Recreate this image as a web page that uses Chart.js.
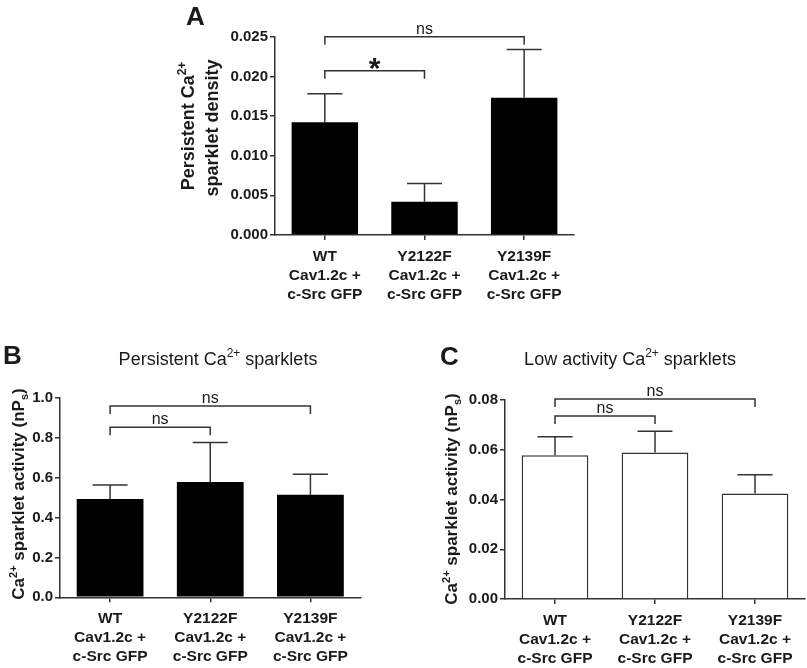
<!DOCTYPE html>
<html>
<head>
<meta charset="utf-8">
<script src="https://cdn.jsdelivr.net/npm/chart.js@4.4.1/dist/chart.umd.min.js"></script>
<style>
  body { margin:0; background:#fff; width:807px; height:668px; position:relative; overflow:hidden; }
  .panel { position:absolute; }
</style>
</head>
<body>
<div class="panel" style="left:150px;top:0"><canvas id="chA" width="460" height="315"></canvas></div>
<div class="panel" style="left:0;top:330px"><canvas id="chB" width="400" height="338"></canvas></div>
<div class="panel" style="left:400px;top:330px"><canvas id="chC" width="407" height="338"></canvas></div>

<script>
// ---- data -----------------------------------------------------
const groups = [
  ['WT', 'Cav1.2c +', 'c-Src GFP'],
  ['Y2122F', 'Cav1.2c +', 'c-Src GFP'],
  ['Y2139F', 'Cav1.2c +', 'c-Src GFP']
];

// A: persistent sparklet density
const densityMean = [0.0142, 0.0042, 0.0173];
const densitySem  = [0.0036, 0.0023, 0.0061];
const densityTicks = [0, 0.005, 0.010, 0.015, 0.020, 0.025];
const densityBrackets = [[0, 2, 0.0250, 'ns'], [0, 1, 0.0207, '*']];

// B: persistent sparklet activity
const persistMean = [0.492, 0.578, 0.514];
const persistSem  = [0.070, 0.197, 0.102];
const persistTicks = [0, 0.2, 0.4, 0.6, 0.8, 1.0];
const persistBrackets = [[0, 2, 0.958, 'ns'], [0, 1, 0.852, 'ns']];

// C: low activity sparklets
const lowMean = [0.0578, 0.0589, 0.0424];
const lowSem  = [0.0074, 0.0085, 0.0076];
const lowTicks = [0, 0.02, 0.04, 0.06, 0.08];
const lowBrackets = [[0, 2, 0.0804, 'ns'], [0, 1, 0.0736, 'ns']];

// ---- helpers --------------------------------------------------
const FONT = '"Liberation Sans", Arial, sans-serif';
const INK  = '#1a1a1a';
const AXIS = '#333';
const Y_W  = 50;   // fixed y-axis box width

// draws a run of text pieces (for sup/subscripts), centred on x
function drawRich(ctx, segs, x, y) {
  let total = 0;
  segs.forEach(s => { ctx.font = s.f; total += ctx.measureText(s.t).width; });
  let cx = x - total / 2;
  ctx.textAlign = 'left';
  ctx.textBaseline = 'alphabetic';
  segs.forEach(s => {
    ctx.font = s.f;
    ctx.fillText(s.t, cx, y + (s.dy || 0));
    cx += ctx.measureText(s.t).width;
  });
}

function caSegs(before, after, size, weight, tail) {
  const base = `${weight} ${size}px ${FONT}`;
  const small = `${weight} ${Math.round(size * 0.65)}px ${FONT}`;
  const segs = [{ t: before + 'Ca', f: base }, { t: '2+', f: small, dy: -size * 0.42 }, { t: after, f: base }];
  return segs.concat(tail || []);
}

function makePanel(id, p) {
  const canvas = document.getElementById(id);
  const W = canvas.width, H = canvas.height;

  const extras = {
    id: 'extras_' + id,
    afterDatasetsDraw(chart) {
      const { ctx, scales: { x, y } } = chart;
      ctx.save();
      ctx.strokeStyle = AXIS;
      ctx.lineWidth = 1.5;
      // upper error bars only
      p.mean.forEach((m, i) => {
        const px = x.getPixelForValue(i);
        const y0 = y.getPixelForValue(m);
        const y1 = y.getPixelForValue(m + p.sem[i]);
        ctx.beginPath();
        ctx.moveTo(px, y0); ctx.lineTo(px, y1);
        ctx.moveTo(px - 17.5, y1); ctx.lineTo(px + 17.5, y1);
        ctx.stroke();
      });
      ctx.restore();
    },
    afterDraw(chart) {
      const { ctx, scales: { x, y } } = chart;
      ctx.save();
      ctx.fillStyle = INK;
      ctx.strokeStyle = AXIS;
      ctx.lineWidth = 1.5;

      // significance brackets
      p.brackets.forEach(([a, b, lvl, lab]) => {
        const xa = x.getPixelForValue(a), xb = x.getPixelForValue(b);
        const yy = y.getPixelForValue(lvl);
        ctx.beginPath();
        ctx.moveTo(xa, yy + 8); ctx.lineTo(xa, yy); ctx.lineTo(xb, yy); ctx.lineTo(xb, yy + 8);
        ctx.stroke();
        ctx.textAlign = 'center';
        ctx.textBaseline = 'alphabetic';
        if (lab === '*') {
          ctx.font = `bold 30px ${FONT}`;
          ctx.fillText(lab, (xa + xb) / 2, yy + 7);
        } else {
          ctx.font = `16px ${FONT}`;
          ctx.fillText(lab, (xa + xb) / 2, yy - 3);
        }
      });

      // panel letter
      ctx.font = `bold 26px ${FONT}`;
      ctx.textAlign = 'left';
      ctx.fillText(p.letter[0], p.letter[1], p.letter[2]);

      // title
      if (p.title) drawRich(ctx, p.title.segs, p.title.x, p.title.y);

      // rotated y title lines
      p.yTitle.forEach(line => {
        ctx.save();
        ctx.translate(line.x, line.y);
        ctx.rotate(-Math.PI / 2);
        drawRich(ctx, line.segs, 0, 0);
        ctx.restore();
      });
      ctx.restore();
    }
  };

  const tickFont = { family: FONT, size: 15, weight: 'bold' };

  return new Chart(canvas, {
    type: 'bar',
    data: {
      labels: groups,
      datasets: [{
        data: p.mean,
        backgroundColor: p.fill,
        borderColor: AXIS,
        borderWidth: p.border,
        barPercentage: 2 / 3,
        categoryPercentage: 1
      }]
    },
    options: {
      responsive: false,
      animation: false,
      layout: { padding: { left: p.area.left - Y_W, top: p.area.top, right: W - p.area.right, bottom: 0 } },
      plugins: { legend: { display: false }, tooltip: { enabled: false } },
      scales: {
        x: {
          grid: { drawOnChartArea: false, offset: false, tickLength: 5, color: AXIS, lineWidth: 1.5 },
          border: { color: AXIS, width: 1.5 },
          ticks: { font: { family: FONT, size: 15.5, weight: 'bold', lineHeight: 1.22 }, color: INK, padding: 7, maxRotation: 0, autoSkip: false },
          afterFit: s => { s.height = H - p.area.bottom; }
        },
        y: {
          min: 0,
          max: p.ticks[p.ticks.length - 1],
          afterBuildTicks: s => { s.ticks = p.ticks.map(v => ({ value: v })); },
          ticks: { font: tickFont, color: INK, padding: 2, callback: v => v.toFixed(p.dec) },
          grid: { drawOnChartArea: false, tickLength: 5, color: AXIS, lineWidth: 1.5 },
          border: { color: AXIS, width: 1.5 },
          afterFit: s => { s.width = Y_W; }
        }
      }
    },
    plugins: [extras]
  });
}

const yBold = 'bold';

// ---- panel A ----
makePanel('chA', {
  mean: densityMean, sem: densitySem, ticks: densityTicks, dec: 3,
  brackets: densityBrackets, fill: '#000', border: 0,
  area: { left: 125, right: 424, top: 36.7, bottom: 235 },
  letter: ['A', 36, 25],
  yTitle: [
    { x: 44, y: 126, segs: caSegs('Persistent ', '', 18, yBold) },
    { x: 68, y: 128, segs: [{ t: 'sparklet density', f: `bold 18px ${FONT}` }] }
  ]
});

// ---- panel B ----
const actTitle = (size) => caSegs('', ' sparklet activity (nP', size, yBold,
  [{ t: 's', f: `bold ${Math.round(size * 0.65)}px ${FONT}`, dy: size * 0.22 }, { t: ')', f: `bold ${size}px ${FONT}` }]);

makePanel('chB', {
  mean: persistMean, sem: persistSem, ticks: persistTicks, dec: 1,
  brackets: persistBrackets, fill: '#000', border: 0,
  area: { left: 60, right: 360.5, top: 67.7, bottom: 267.3 },
  letter: ['B', 3, 34],
  title: { x: 218, y: 35, segs: caSegs('Persistent ', ' sparklets', 18, 'normal') },
  yTitle: [{ x: 24, y: 164, segs: actTitle(17) }]
});

// ---- panel C ----
makePanel('chC', {
  mean: lowMean, sem: lowSem, ticks: lowTicks, dec: 2,
  brackets: lowBrackets, fill: '#fff', border: 1.5,
  area: { left: 105, right: 405, top: 70, bottom: 269 },
  letter: ['C', 40, 35],
  title: { x: 230, y: 35, segs: caSegs('Low activity ', ' sparklets', 18, 'normal') },
  yTitle: [{ x: 57, y: 169, segs: actTitle(17) }]
});
</script>
</body>
</html>
